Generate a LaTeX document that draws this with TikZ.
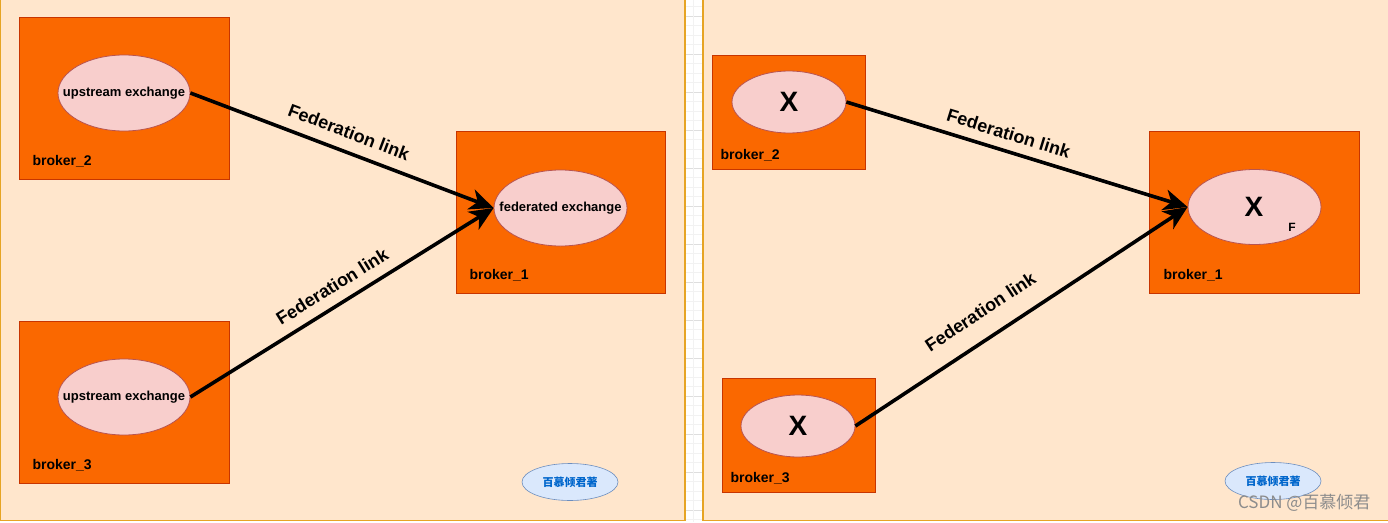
\documentclass[tikz,border=0pt]{standalone}
\usepackage{fontspec}
\setmainfont{Liberation Sans}
\newfontfamily\cjk{Noto Sans CJK SC}
\usetikzlibrary{arrows.meta, shapes.geometric}

\definecolor{panelbg}{HTML}{FFE6CC}
\definecolor{panelline}{HTML}{E6A424}
\definecolor{brokerfill}{HTML}{FA6800}
\definecolor{brokerline}{HTML}{C73500}
\definecolor{exfill}{HTML}{F8CECC}
\definecolor{exline}{HTML}{B85450}
\definecolor{tagfill}{HTML}{DAE8FC}
\definecolor{tagline}{HTML}{6C8EBF}
\definecolor{tagtext}{HTML}{0066CC}

\tikzset{
  panel/.style={draw=panelline, line width=1.2pt, fill=panelbg},
  broker/.style={rectangle, draw=brokerline, fill=brokerfill, line width=0.8pt},
  exchange/.style={ellipse, draw=exline, fill=exfill, line width=0.8pt, inner sep=0pt},
  extext/.style={label={[font=\fontsize{13}{15}\selectfont\bfseries]center:#1}},
  brokerlabel/.style={anchor=west, font=\fontsize{14}{16}\selectfont\bfseries},
  link/.style={line width=3.6pt, -{Stealth[length=24pt, width=21pt, inset=7pt]}},
  linklabel/.style={sloped, font=\fontsize{18}{20}\selectfont\bfseries},
  tag/.style={ellipse, draw=tagline, fill=tagfill, line width=0.6pt, minimum width=96pt, minimum height=37pt,
    text=tagtext, font=\cjk\fontsize{11}{13}\selectfont\bfseries}
}

\begin{document}
\begin{tikzpicture}[x=1pt, y=-1pt]
    \useasboundingbox (0,0) rectangle (1388,522);
    \fill[white] (0,0) rectangle (1388,522);

    % canvas grid between the two pages
    \foreach \gy in {6.5,16,...,522} {
        \draw[black!5, line width=0.5pt] (685,\gy) -- (703,\gy);
    }
    \foreach \gy in {16,54,...,522} {
        \draw[black!13, line width=0.6pt] (685,\gy) -- (703,\gy);
    }
    \draw[black!5, line width=0.5pt] (693.5,0) -- (693.5,522);

    % the two pages
    \draw[panel] (0.6,-5) rectangle (685,520.4);
    \draw[panel] (703,-5) rectangle (1395,520.4);

    % left: brokers
    \node[broker, minimum width=210pt, minimum height=162pt] (lb2) at (124,98) {};
    \node[broker, minimum width=210pt, minimum height=162pt] (lb3) at (124,402) {};
    \node[broker, minimum width=209pt, minimum height=162pt] (lb1) at (560.5,212) {};

    % left: exchanges
    \node[exchange, minimum width=132pt, minimum height=76pt, extext={upstream exchange}] (lup2) at (124,93) {};
    \node[exchange, minimum width=132pt, minimum height=76pt, extext={upstream exchange}] (lup3) at (124,397) {};
    \node[exchange, minimum width=133pt, minimum height=76pt, extext={federated exchange}] (lfed) at (560.5,208) {};

    \node[brokerlabel] (lb2name) at (29,161) {broker\_2};
    \node[brokerlabel] (lb3name) at (29,465) {broker\_3};
    \node[brokerlabel] (lb1name) at (466,275) {broker\_1};

    % left: federation links
    \draw[link] (lup2.east) -- node[linklabel, pos=0.5, above=8pt] {Federation link} (lfed.west);
    \draw[link] (lup3.east) -- node[linklabel, pos=0.5, above=7pt] {Federation link} (lfed.west);

    \node[tag] (ltag) at (570,482) {百慕倾君著};

    % right: brokers
    \node[broker, minimum width=153pt, minimum height=114pt] (rb2) at (788.5,112) {};
    \node[broker, minimum width=153pt, minimum height=114pt] (rb3) at (798.5,435) {};
    \node[broker, minimum width=210pt, minimum height=162pt] (rb1) at (1254,212) {};

    % right: exchanges
    \node[exchange, minimum width=114pt, minimum height=62pt, font=\fontsize{28}{30}\selectfont\bfseries] (rx2) at (789,102) {X};
    \node[exchange, minimum width=114pt, minimum height=62pt, font=\fontsize{28}{30}\selectfont\bfseries] (rx3) at (798,426) {X};
    \node[exchange, minimum width=133pt, minimum height=75pt] (rxf) at (1254.5,207) {};
    \node[font=\fontsize{28}{30}\selectfont\bfseries] (rxfx) at (1254,207) {X};
    \node[font=\fontsize{12}{14}\selectfont\bfseries] (rxff) at (1292,227) {F};

    \node[brokerlabel] (rb2name) at (717,155) {broker\_2};
    \node[brokerlabel] (rb3name) at (727,478) {broker\_3};
    \node[brokerlabel] (rb1name) at (1160,275) {broker\_1};

    % right: federation links
    \draw[link] (rx2.east) -- node[linklabel, pos=0.46, above=6pt] {Federation link} (rxf.west);
    \draw[link] (rx3.east) -- node[linklabel, pos=0.42, above=15pt] {Federation link} (rxf.west);

    \node[tag] (rtag) at (1273,481) {百慕倾君著};

    % watermark
    \node[text=black!45, font=\cjk\fontsize{17}{19}\selectfont, anchor=east] (mark) at (1374,503) {CSDN @百慕倾君};
\end{tikzpicture}
\end{document}
